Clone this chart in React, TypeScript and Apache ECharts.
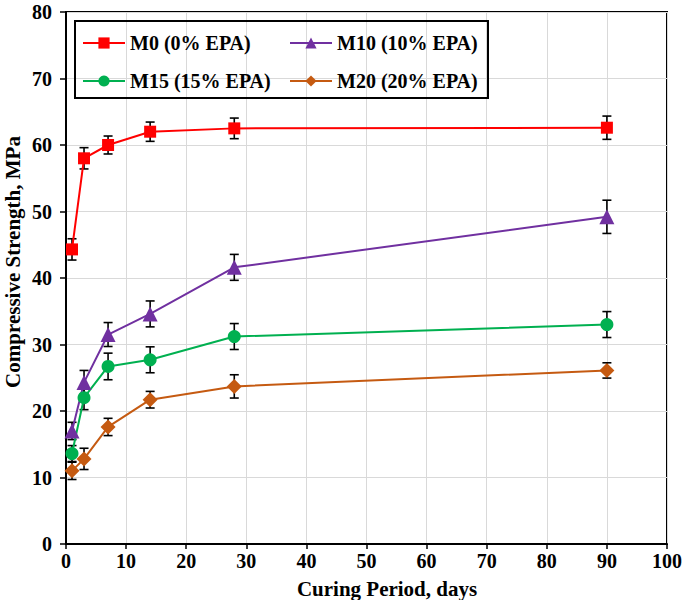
import React, { useEffect, useRef } from "react";
import * as echarts from "echarts";

const days = [1, 3, 7, 14, 28, 90];
const seriesNames = ["M0 (0% EPA)", "M10 (10% EPA)", "M15 (15% EPA)", "M20 (20% EPA)"];
const m0 = [44.3, 58.0, 60.0, 62.0, 62.5, 62.6];
const m0Err = [1.6, 1.6, 1.35, 1.45, 1.55, 1.75];
const m10 = [17.0, 24.3, 31.5, 34.6, 41.6, 49.2];
const m10Err = [1.3, 1.8, 1.8, 1.95, 1.95, 2.5];
const m15 = [13.6, 22.0, 26.7, 27.7, 31.2, 33.0];
const m15Err = [1.2, 1.8, 2.0, 1.95, 1.95, 1.95];
const m20 = [11.0, 12.8, 17.6, 21.7, 23.7, 26.1];
const m20Err = [1.3, 1.6, 1.3, 1.25, 1.75, 1.15];
const xTicks = [0, 10, 20, 30, 40, 50, 60, 70, 80, 90, 100];
const yTicks = [0, 10, 20, 30, 40, 50, 60, 70, 80];
const xTitle = "Curing Period, days";
const yTitle = "Compressive Strength, MPa";

const colors = ["#FF0000", "#7030A0", "#00B050", "#C55A11"];
const symbols = ["rect", "triangle", "circle", "diamond"];
const symbolSizes = [12, 15, 13, 15];
const FONT = "Liberation Serif";

export default function App() {
  const ref = useRef<HTMLDivElement>(null);
  useEffect(() => {
    document.body.style.margin = "0";
    const chart = echarts.init(ref.current!, null, { renderer: "svg" });
    const values = [m0, m10, m15, m20];
    const errs = [m0Err, m10Err, m15Err, m20Err];

    const lineSeries = values.map((vals, i) => ({
      type: "line",
      name: seriesNames[i],
      data: days.map((d, j) => [d, vals[j]]),
      symbol: symbols[i],
      symbolSize: symbolSizes[i],
      lineStyle: { color: colors[i], width: 2 },
      itemStyle: { color: colors[i] },
      z: 5,
    }));

    const errSeries = values.map((vals, i) => ({
      type: "custom",
      name: seriesNames[i] + " err",
      data: days.map((d, j) => [d, vals[j] - errs[i][j], vals[j] + errs[i][j]]),
      z: 3,
      renderItem: (params: any, api: any) => {
        const x = api.value(0);
        const lo = api.coord([x, api.value(1)]);
        const hi = api.coord([x, api.value(2)]);
        const w = 4.5;
        const style = { stroke: "#000", lineWidth: 1.6 };
        return {
          type: "group",
          children: [
            { type: "line", shape: { x1: lo[0], y1: lo[1], x2: hi[0], y2: hi[1] }, style },
            { type: "line", shape: { x1: lo[0] - w, y1: lo[1], x2: lo[0] + w, y2: lo[1] }, style },
            { type: "line", shape: { x1: hi[0] - w, y1: hi[1], x2: hi[0] + w, y2: hi[1] }, style },
          ],
        };
      },
    }));

    const legendPos = [
      { left: 82, top: 33 },
      { left: 289, top: 33 },
      { left: 82, top: 71 },
      { left: 289, top: 71 },
    ];

    const labelFont = { fontFamily: FONT, fontWeight: "bold", fontSize: 20, color: "#000" };

    chart.setOption({
      animation: false,
      backgroundColor: "#fff",
      grid: {
        left: 66,
        right: 17,
        top: 12,
        bottom: 56,
        show: true,
        borderColor: "#000",
        borderWidth: 2,
      },
      legend: legendPos.map((p, i) => ({
        ...p,
        data: [seriesNames[i]],
        padding: 0,
        itemWidth: 42,
        itemHeight: 14,
        textStyle: { ...labelFont },
      })),
      graphic: [
        {
          type: "rect",
          shape: { x: 75, y: 21, width: 413, height: 77 },
          style: { fill: "none", stroke: "#000", lineWidth: 2 },
          z: 10,
        },
        {
          type: "text",
          x: 387,
          y: 589,
          style: {
            text: xTitle,
            fontFamily: FONT,
            fontWeight: "bold",
            fontSize: 21,
            fill: "#000",
            textAlign: "center",
            textVerticalAlign: "middle",
          },
        },
        {
          type: "text",
          x: 13,
          y: 262,
          rotation: Math.PI / 2,
          style: {
            text: yTitle,
            fontFamily: FONT,
            fontWeight: "bold",
            fontSize: 21,
            fill: "#000",
            textAlign: "center",
            textVerticalAlign: "middle",
          },
        },
      ],
      xAxis: {
        type: "value",
        min: xTicks[0],
        max: xTicks[xTicks.length - 1],
        interval: 10,
        axisLine: { lineStyle: { color: "#000", width: 2 } },
        axisTick: { show: true, length: 5, lineStyle: { color: "#000", width: 1.5 } },
        axisLabel: { ...labelFont, margin: 7 },
        splitLine: { show: true, lineStyle: { color: "#d9d9d9", width: 1 } },
      },
      yAxis: {
        type: "value",
        min: yTicks[0],
        max: yTicks[yTicks.length - 1],
        interval: 10,
        axisLine: { show: true, lineStyle: { color: "#000", width: 2 } },
        axisTick: { show: true, length: 6, lineStyle: { color: "#000", width: 1.5 } },
        axisLabel: { ...labelFont, margin: 14 },
        splitLine: { show: true, lineStyle: { color: "#d9d9d9", width: 1 } },
      },
      series: [...errSeries, ...lineSeries],
    });
    return () => chart.dispose();
  }, []);
  return <div ref={ref} style={{ width: 685, height: 600 }} />;
}
